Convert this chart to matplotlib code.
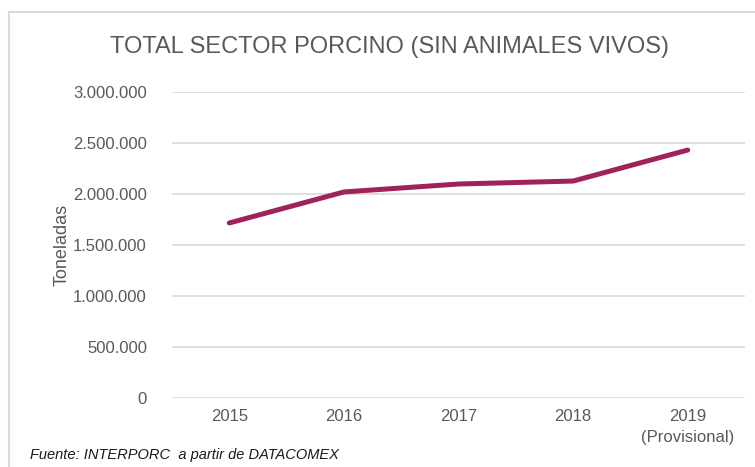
import matplotlib.pyplot as plt
from matplotlib.patches import Rectangle
from matplotlib.ticker import FuncFormatter

plt.rcParams['font.family'] = ['Liberation Sans', 'DejaVu Sans']

# Data
years = ["2015", "2016", "2017", "2018", "2019\n(Provisional)"]
toneladas = [1716000, 2020000, 2098000, 2127000, 2431000]

title = "TOTAL SECTOR PORCINO (SIN ANIMALES VIVOS)"
ylabel = "Toneladas"
fuente = "Fuente: INTERPORC  a partir de DATACOMEX"

fig = plt.figure(figsize=(7.55, 4.67), dpi=100)
ax = fig.add_axes([172 / 755, 1 - 398 / 467, (745 - 172) / 755, (398 - 92) / 467])

x = list(range(len(years)))
ax.plot(x, toneladas, color="#A0225A", linewidth=3.6, solid_capstyle="round")

ax.set_ylim(0, 3000000)
ax.set_yticks(range(0, 3000001, 500000))
ax.yaxis.set_major_formatter(FuncFormatter(lambda v, p: f"{int(v):,}".replace(",", ".")))
ax.set_xlim(-0.5, 4.5)
ax.set_xticks(x)
ax.set_xticklabels(years)

ax.grid(axis="y", color="#D9D9D9", linewidth=1.2)
ax.set_axisbelow(True)
for s in ax.spines.values():
    s.set_visible(False)
ax.tick_params(axis="both", length=0, colors="#595959", labelsize=12)
ax.tick_params(axis="y", pad=18)
ax.tick_params(axis="x", pad=8)
for lbl in ax.get_xticklabels():
    lbl.set_linespacing(1.45)

fig.text(62 / 755, 1 - 245 / 467, ylabel, rotation=90, ha="center", va="center",
         fontsize=13, color="#595959")
fig.text(389 / 755, 1 - 47 / 467, title, ha="center", va="center",
         fontsize=17, color="#595959")
fig.text(30 / 755, 1 - 455 / 467, fuente, ha="left", va="center",
         fontsize=10.5, style="italic", color="#1A1A1A")

fig.patches.append(Rectangle((9 / 755, -0.1), 1.2, 1 - 12 / 467 + 0.1,
                             transform=fig.transFigure, fill=False,
                             edgecolor="#D9D9D9", linewidth=1.5))

fig.savefig("out.png", dpi=100)
